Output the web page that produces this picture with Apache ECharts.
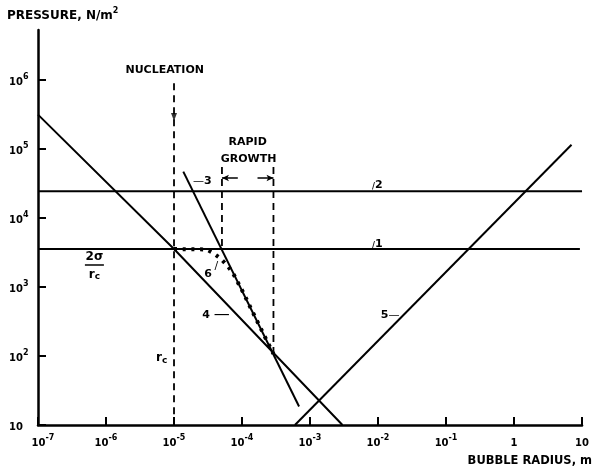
<!DOCTYPE html>
<html><head><meta charset="utf-8">
<script src="https://cdn.jsdelivr.net/npm/echarts@6/dist/echarts.min.js"></script>
<style>html,body{margin:0;padding:0;background:#fff}#c{width:592px;height:472px}</style>
</head><body><div id="c"></div>
<script>
// ---- tick labels ----
const xTicks = [1e-7, 1e-6, 1e-5, 1e-4, 1e-3, 1e-2, 1e-1, 1, 10];
const xTickLabels = ['10^-7', '10^-6', '10^-5', '10^-4', '10^-3', '10^-2', '10^-1', '1', '10'];
const yTicks = [10, 100, 1e3, 1e4, 1e5, 1e6];
const yTickLabels = ['10', '10^2', '10^3', '10^4', '10^5', '10^6'];
const xMin = 1e-7, xMax = 10, yMin = 10, yMax = 5.3e6;

// ---- curves (bubble radius m, pressure N/m2) ----
const line1 = [[1e-7, 3550], [9.3, 3550]];
const line2 = [[1e-7, 24500], [10, 24500]];
const line3 = [[1.37e-5, 4.7e4], [6.9e-4, 18.5]];
const line4 = [[1e-7, 3.15e5], [1e-5, 3550], [3.0e-3, 10]];
const line5 = [[6e-4, 10], [7, 1.15e5]];
const line6 = [[1e-5, 3550], [3.0e-5, 3500], [3.76e-5, 3110], [4.74e-5, 2630], [6.0e-5, 2080],
               [7.33e-5, 1600], [1.03e-4, 850], [1.53e-4, 380], [2.9e-4, 107]];
const nucleationLine = [[1e-5, 9e5], [1e-5, 10]];
const nucleationArrow = [[1e-5, 2.9e5]];
const growthStart = [[5.07e-5, 5.5e4], [5.07e-5, 3550]];
const growthEnd = [[2.9e-4, 5.5e4], [2.9e-4, 115]];
const growthArrowP = 3.8e4;
const growthArrowLeft = [8.67e-5, 5.07e-5];
const growthArrowRight = [1.69e-4, 2.9e-4];

// ---- annotations ----
const noteText = ['NUCLEATION', 'RAPID', 'GROWTH', '{d|—}3', '{sl|/}2', '{sl|/}1', '4 {d2|—}', '5{d|—}', '6', '{sl2|/}',
                  '{r|r}{c|c}', '{r|2σ}\n{bar|}\n{r|r}{c|c}'];
const noteR = [7.3e-6, 1.21e-4, 1.25e-4, 2.6e-5, 9.75e-3, 9.75e-3, 4.15e-5, 1.51e-2, 3.18e-5, 4.2e-5, 6.58e-6, 6.75e-7];
const noteP = [1.4e6, 1.26e5, 7.16e4, 3.44e4, 3.0e4, 4.2e3, 393, 393, 1540, 2000, 93.5, 2015];

const FONT = 'DejaVu Sans';
function fmtTick(ticks, labels, v, first) {
  let i = ticks.findIndex(t => Math.abs(Math.log10(t) - Math.log10(v)) < 1e-6);
  if (i < 0) return '';
  const parts = labels[i].split('^');
  let s = parts[1] ? `{b|${parts[0]}}{s|${parts[1]}}` : `{b|${parts[0]}}`;
  if (first && i === 0) s = '{pad|}' + s;
  return s;
}
const tickRich = {
  b: {fontFamily: FONT, fontWeight: 'bold', fontSize: 10, color: '#000', lineHeight: 14, verticalAlign: 'bottom'},
  s: {fontFamily: FONT, fontWeight: 'bold', fontSize: 8, color: '#000', lineHeight: 8, verticalAlign: 'top'},
  pad: {width: 10}
};
const lineBase = {type: 'line', showSymbol: false, symbol: 'none', silent: true, animation: false,
  lineStyle: {color: '#000', width: 2}, itemStyle: {color: '#000'}};
function mkLine(data, extra) { return Object.assign({}, lineBase, {data}, extra || {}); }

const chart = echarts.init(document.getElementById('c'), null, {renderer: 'canvas'});
chart.setOption({
  animation: false,
  backgroundColor: '#fff',
  title: [
    {text: '{a|PRESSURE, N/m}{s|2}', left: 7, top: 7, padding: 0,
     textStyle: {rich: {a: {fontFamily: FONT, fontWeight: 'bold', fontSize: 12, color: '#000', lineHeight: 15, verticalAlign: 'bottom'},
                        s: {fontFamily: FONT, fontWeight: 'bold', fontSize: 8, color: '#000', lineHeight: 8, verticalAlign: 'top'}}}},
    {text: 'BUBBLE RADIUS, m', right: 0, top: 455, padding: 0,
     textStyle: {fontFamily: FONT, fontWeight: 'bold', fontSize: 11.5, color: '#000'}}
  ],
  grid: {left: 38, right: 4, top: 30, bottom: 47, containLabel: false},
  xAxis: {
    type: 'log', logBase: 10, min: xMin, max: xMax,
    axisLine: {show: true, lineStyle: {color: '#000', width: 2.5}},
    axisTick: {show: true, inside: true, length: 8, lineStyle: {color: '#000', width: 2}, customValues: xTicks},
    axisLabel: {show: true, margin: 9, customValues: xTicks, formatter: v => fmtTick(xTicks, xTickLabels, v, true), rich: tickRich},
    splitLine: {show: false}, minorTick: {show: false}
  },
  yAxis: {
    type: 'log', logBase: 10, min: yMin, max: yMax,
    axisLine: {show: true, lineStyle: {color: '#000', width: 2.5}},
    axisTick: {show: true, inside: true, length: 8, lineStyle: {color: '#000', width: 2}, customValues: yTicks},
    axisLabel: {show: true, margin: 29, align: 'left', customValues: yTicks, formatter: v => fmtTick(yTicks, yTickLabels, v, false), rich: tickRich},
    splitLine: {show: false}, minorTick: {show: false}
  },
  series: [
    mkLine(line1),
    mkLine(line2),
    mkLine(line3),
    mkLine(line4),
    mkLine(line5),
    mkLine(line6, {lineStyle: {color: '#000', width: 4, type: [3, 5.7], cap: 'butt'}}),
    mkLine(nucleationLine, {lineStyle: {color: '#000', width: 1.8, type: [7, 5]}}),
    mkLine(growthStart, {lineStyle: {color: '#000', width: 1.8, type: [7, 5]}}),
    mkLine(growthEnd, {lineStyle: {color: '#000', width: 1.8, type: [7, 5]},
      markLine: {silent: true, animation: false, symbol: ['none', 'arrow'], symbolSize: [5, 7],
        label: {show: false}, lineStyle: {color: '#000', width: 1.5, type: 'solid'},
        data: [
          [{coord: [growthArrowLeft[0], growthArrowP]}, {coord: [growthArrowLeft[1], growthArrowP]}],
          [{coord: [growthArrowRight[0], growthArrowP]}, {coord: [growthArrowRight[1], growthArrowP]}]
        ]}}),
    {type: 'scatter', data: nucleationArrow, symbol: 'triangle', symbolRotate: 180, symbolSize: [6, 8],
     itemStyle: {color: '#000'}, silent: true, animation: false},
    {type: 'scatter', silent: true, animation: false, symbolSize: 1, itemStyle: {color: 'rgba(255,255,255,0)'},
     data: noteText.map((t, i) => ({name: t, value: [noteR[i], noteP[i]]})),
     label: {show: true, position: [0.5, 0.5], formatter: p => p.name, color: '#000', opacity: 1,
       textBorderWidth: 0, textBorderColor: 'transparent',
       fontFamily: FONT, fontWeight: 'bold', fontSize: 11, align: 'center', verticalAlign: 'middle',
       rich: {
         d: {fontFamily: FONT, fontWeight: 'normal', fontSize: 11, color: '#000'},
         d2: {fontFamily: FONT, fontWeight: 'normal', fontSize: 16, color: '#000'},
         sl: {fontFamily: FONT, fontWeight: 'bold', fontSize: 8, color: '#000', verticalAlign: 'bottom'},
         sl2: {fontFamily: FONT, fontWeight: 'normal', fontSize: 11, color: '#000'},
         r: {fontFamily: FONT, fontWeight: 'bold', fontSize: 12, color: '#000', align: 'center'},
         c: {fontFamily: FONT, fontWeight: 'bold', fontSize: 9, color: '#000', padding: [5, 0, 0, 0]},
         bar: {width: 19, height: 1.5, lineHeight: 5, backgroundColor: '#000', align: 'center'}
       }}}
  ]
});
</script></body></html>
